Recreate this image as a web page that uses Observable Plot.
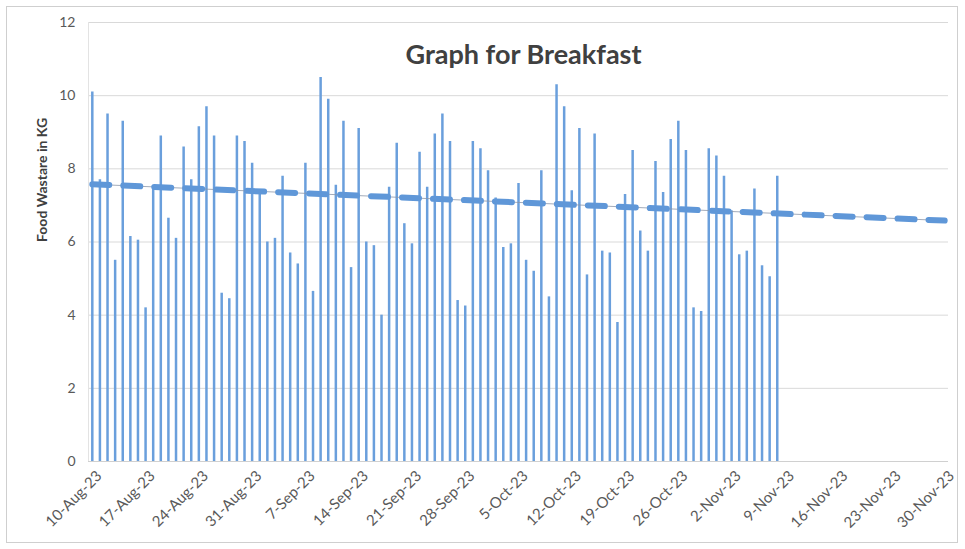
<!DOCTYPE html>
<html><head><meta charset="utf-8">
<script src="https://cdn.jsdelivr.net/npm/d3@7"></script>
<script src="https://cdn.jsdelivr.net/npm/@observablehq/plot@0.6"></script>
<style>
html,body{margin:0;padding:0;background:#fff;}
#wrap{position:relative;width:965px;height:549px;overflow:hidden;}
#border{position:absolute;left:6px;top:6px;width:952px;height:537px;border:1.5px solid #cfcfcf;box-sizing:border-box;pointer-events:none;}
svg{display:block;}
</style></head><body><div id="wrap"><div id="border"></div></div>
<script>
// first day of the daily series (10-Aug-23), one value per day through 8-Nov-23
const startDate = "2023-08-10";
const wasteKg = [
  // Aug 10-31
  10.1, 7.7, 9.5, 5.5, 9.3, 6.15, 6.05, 4.2, 7.45, 8.9, 6.65, 6.1, 8.6, 7.7, 9.15, 9.7, 8.9, 4.6, 4.45, 8.9, 8.75, 8.15,
  // Sep 1-30
  7.3, 6.0, 6.1, 7.8, 5.7, 5.4, 8.15, 4.65, 10.5, 9.9, 7.55, 9.3, 5.3, 9.1, 6.0, 5.9, 4.0, 7.5, 8.7, 6.5, 5.95, 8.45, 7.5, 8.95, 9.5, 8.75, 4.4, 4.25, 8.75, 8.55,
  // Oct 1-31
  7.95, 7.2, 5.85, 5.95, 7.6, 5.5, 5.2, 7.95, 4.5, 10.3, 9.7, 7.4, 9.1, 5.1, 8.95, 5.75, 5.7, 3.8, 7.3, 8.5, 6.3, 5.75, 8.2, 7.35, 8.8, 9.3, 8.5, 4.2, 4.1, 8.55, 8.35,
  // Nov 1-8
  7.8, 6.85, 5.65, 5.75, 7.45, 5.35, 5.05, 7.8
];
const tickLabels = ["10-Aug-23","17-Aug-23","24-Aug-23","31-Aug-23","7-Sep-23","14-Sep-23","21-Sep-23","28-Sep-23","5-Oct-23","12-Oct-23","19-Oct-23","26-Oct-23","2-Nov-23","9-Nov-23","16-Nov-23","23-Nov-23","30-Nov-23"];
const yTicks = [0, 2, 4, 6, 8, 10, 12];
const trendForecastEnd = "30-Nov-23";
const chartTitle = "Graph for Breakfast";
const yTitle = "Food Wastare in KG";

const parse = d3.utcParse("%d-%b-%y");
const fmt = d3.utcFormat("%-d-%b-%y");
const start = new Date(startDate + "T00:00:00Z");
const data = wasteKg.map((v, i) => ({date: d3.utcDay.offset(start, i), value: v}));
const tickDates = tickLabels.map(parse);
const endDate = parse(trendForecastEnd);

// linear trendline (least squares) extended as forecast to the last tick
const xs = data.map(d => (d.date - start) / 864e5);
const ys = data.map(d => d.value);
const mx = d3.mean(xs), my = d3.mean(ys);
const slope = d3.sum(xs, (x, i) => (x - mx) * (ys[i] - my)) / d3.sum(xs, x => (x - mx) ** 2);
const icpt = my - slope * mx;
const trend = [start, endDate].map(d => ({date: d, value: icpt + slope * ((d - start) / 864e5)}));

const blue = "#6a9fdc";
const chart = Plot.plot({
  width: 965,
  height: 549,
  marginLeft: 88,
  marginRight: 17,
  marginTop: 22,
  marginBottom: 88,
  style: {fontFamily: "Lato, 'Open Sans', sans-serif", fontSize: "13px", color: "#595959", background: "transparent"},
  x: {type: "utc", domain: [d3.utcHour.offset(start, -12), d3.utcHour.offset(endDate, 12)], label: null},
  y: {domain: [0, 12], label: null},
  marks: [
    Plot.ruleY(yTicks.filter(t => t > 0), {stroke: "#d9d9d9", strokeWidth: 1}),
    Plot.ruleX([start], {x: () => d3.utcHour.offset(start, -12), stroke: "#e3e3e3"}),
    Plot.axisY({ticks: yTicks, tickSize: 0, tickPadding: 13, fontSize: 14, label: null}),
    Plot.axisX({ticks: tickDates, tickFormat: fmt, tickRotate: -45, tickSize: 0, tickPadding: 6, fontSize: 15, dx: 7, dy: 6, label: null}),
    Plot.ruleX(data, {x: "date", y1: 0, y2: "value", stroke: blue, strokeWidth: 2.5}),
    Plot.ruleY([0], {stroke: "#d0d0d0", strokeWidth: 1}),
    Plot.line(trend, {x: "date", y: "value", stroke: "#8a96a8", strokeWidth: 0.8}),
    Plot.line(trend, {x: "date", y: "value", stroke: "#5f97d8", strokeWidth: 6, strokeDasharray: "17,14", strokeLinecap: "round"}),
    Plot.text([chartTitle], {frameAnchor: "top", dy: 22, dx: 5, fontSize: 27, fontWeight: "bold", fill: "#404040"}),
    Plot.text([yTitle], {frameAnchor: "left", dx: -46, rotate: -90, fontSize: 14, fontWeight: "bold", fill: "#404040"})
  ]
});
document.getElementById("wrap").appendChild(chart);
</script>
</body></html>
